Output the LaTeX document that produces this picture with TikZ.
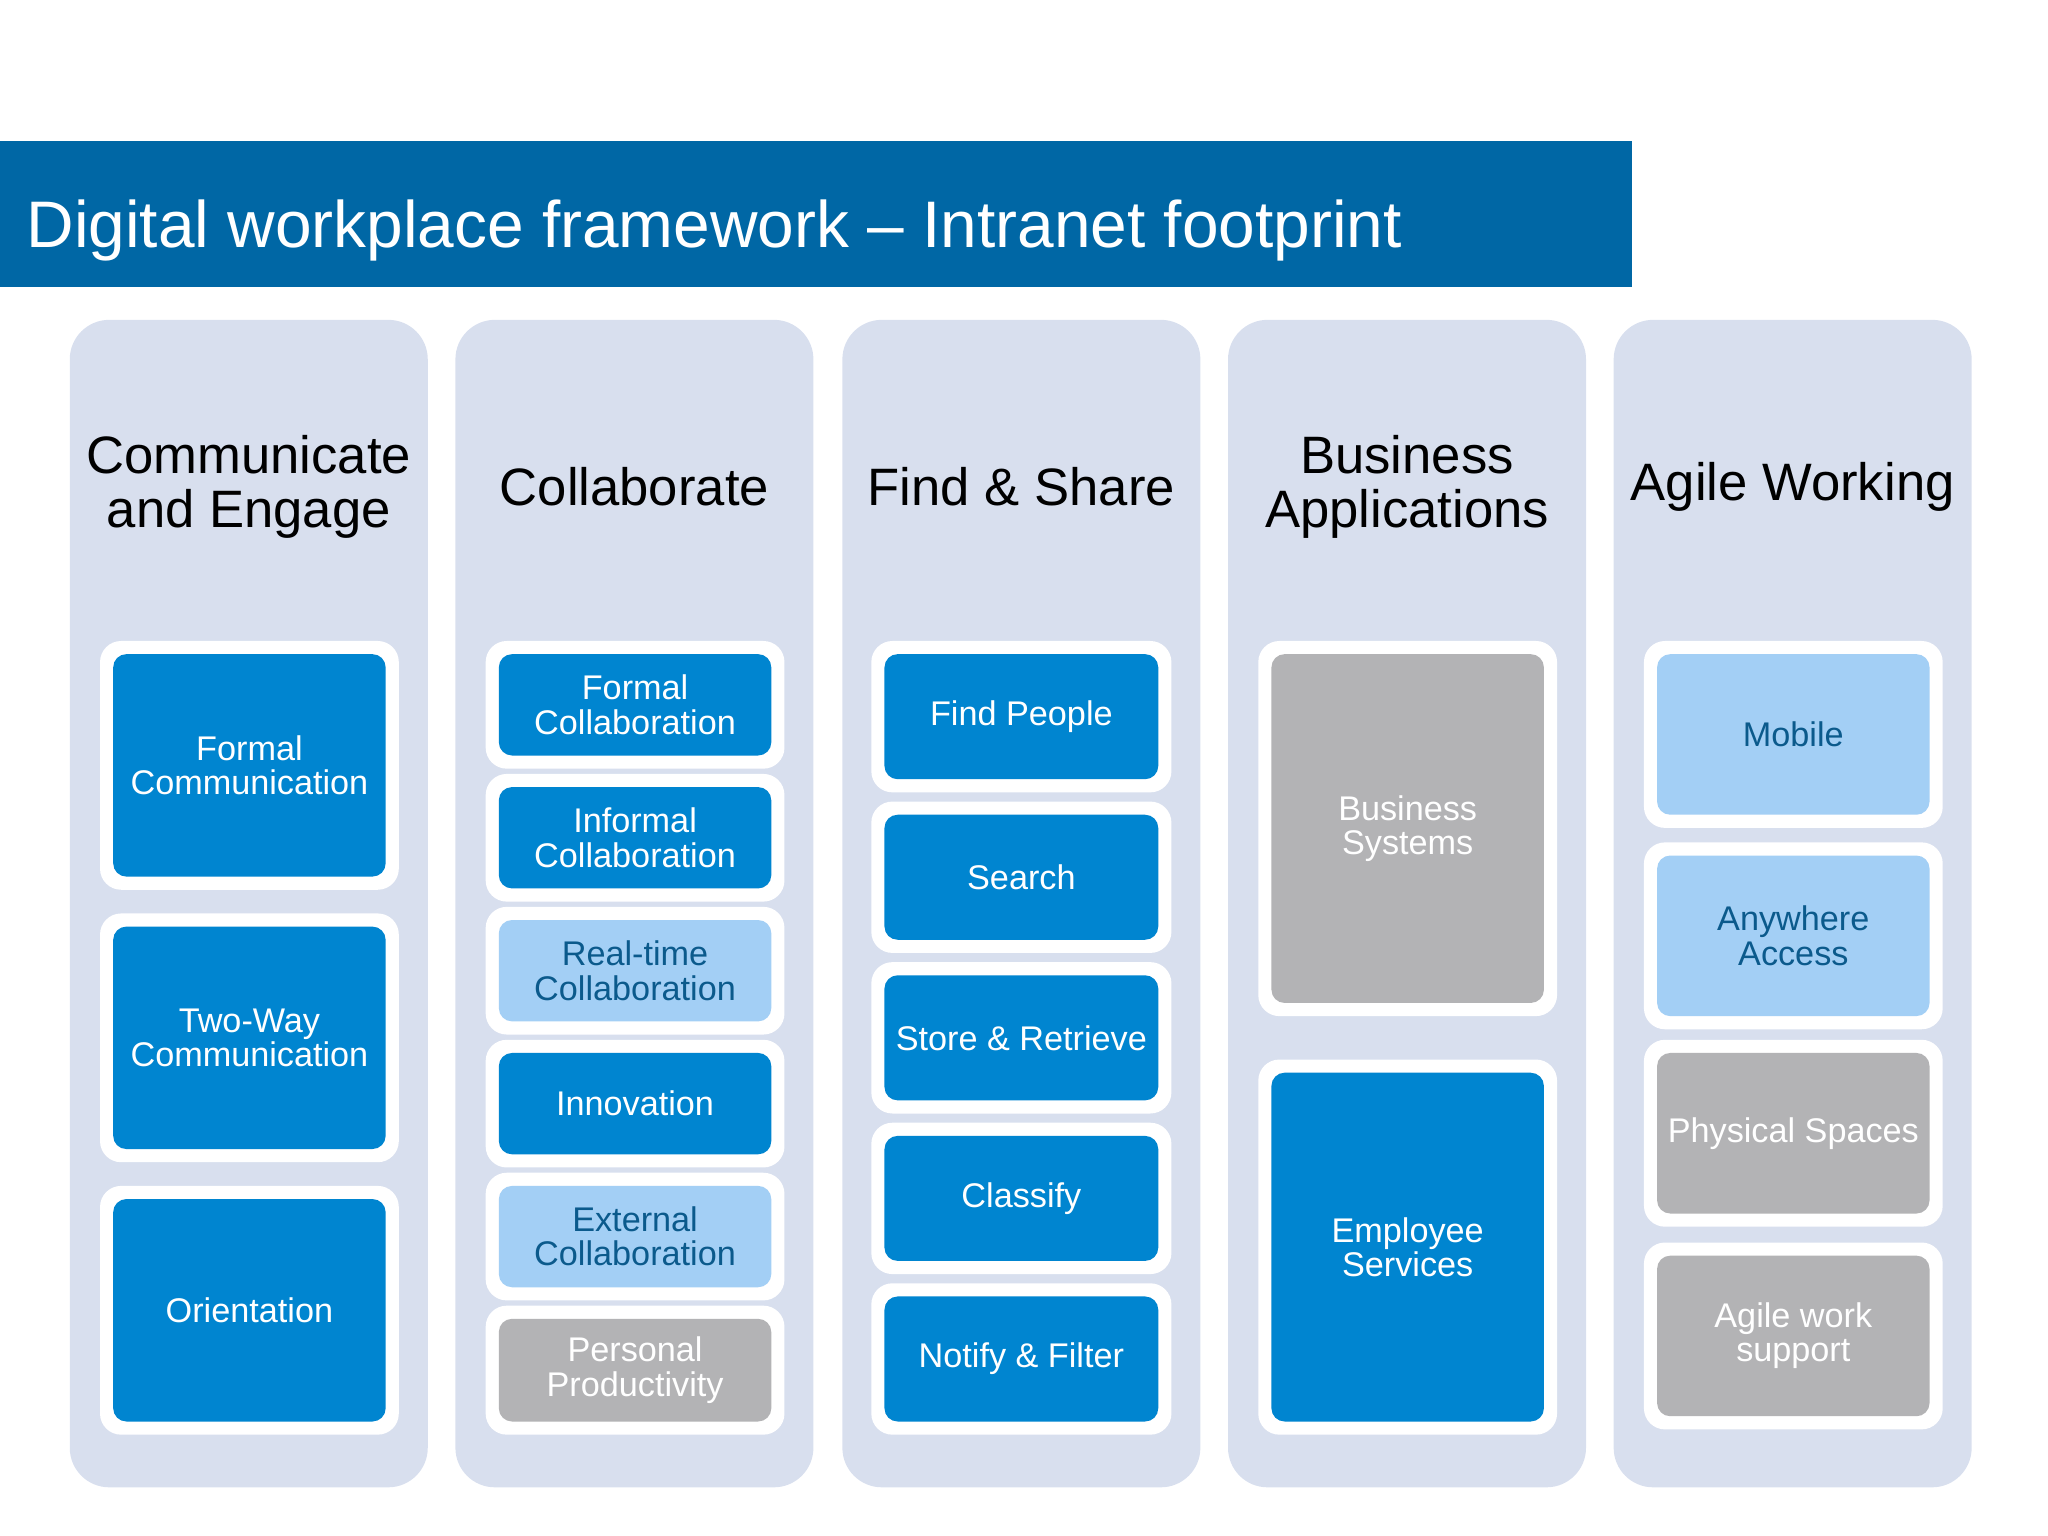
\documentclass[tikz,border=0pt]{standalone}
\usepackage{fontspec}
\setmainfont{Liberation Sans}
\definecolor{barblue}{HTML}{0067A5}
\definecolor{colbg}{HTML}{D8DFEE}
\definecolor{tileblue}{HTML}{0085D0}
\definecolor{tilelight}{HTML}{A3CFF5}
\definecolor{tilegray}{HTML}{B3B3B5}
\definecolor{darktext}{HTML}{0B5A8C}
\tikzset{
  column/.style={fill=colbg, rounded corners=30pt},
  frame/.style={fill=white, rounded corners=16pt},
  tile/.style={rounded corners=10pt, inner sep=0pt, align=center,
    font=\fontsize{26}{26}\selectfont},
  dark/.style={fill=tileblue, text=white},
  light/.style={fill=tilelight, text=darktext},
  gray/.style={fill=tilegray, text=white},
  head/.style={align=center, font=\fontsize{40}{41}\selectfont}
}
% \tile{name}{x1}{y1}{x2}{y2}{style}{text}  (inner box, px coords)
\newcommand\tile[7]{%
  \fill[frame] (#2-10,#3-10) rectangle (#4+10,#5+10);
  \node[tile,#6,minimum width={(#4-#2)*1pt},minimum height={(#5-#3)*1pt}]
    (#1) at ({(#2+#4)/2},{(#3+#5)/2}) {#7};}
\begin{document}
\begin{tikzpicture}[x=1pt,y=-1pt]
\useasboundingbox (0,0) rectangle (1556,1167);
\fill[barblue] (0,107) rectangle (1240,218);
\node[anchor=base west, text=white, font=\fontsize{50}{50}\selectfont, inner sep=0pt]
  (title) at (20,188) {Digital workplace framework – Intranet footprint};
\foreach \x/\n in {53/c1,346/c2,640/c3,933/c4,1226/c5}
  \fill[column] (\x,243) rectangle (\x+272,1130);
\node[head] (h1) at (189,370) {Communicate\\and Engage};
\node[head] (h2) at (482,370) {Collaborate};
\node[head] (h3) at (776,370) {Find \& Share};
\node[head] (h4) at (1069,370) {Business\\Applications};
\node[head] (h5) at (1362,370) {Agile Working};
% column 1
\tile{a1}{86}{497}{293}{666}{dark}{Formal\\Communication}
\tile{a2}{86}{704}{293}{873}{dark}{Two-Way\\Communication}
\tile{a3}{86}{911}{293}{1080}{dark}{Orientation}
% column 2
\tile{b1}{379}{497}{586}{574}{dark}{Formal\\Collaboration}
\tile{b2}{379}{598}{586}{675}{dark}{Informal\\Collaboration}
\tile{b3}{379}{699}{586}{776}{light}{Real-time\\Collaboration}
\tile{b4}{379}{800}{586}{877}{dark}{Innovation}
\tile{b5}{379}{901}{586}{978}{light}{External\\Collaboration}
\tile{b6}{379}{1002}{586}{1080}{gray}{Personal\\Productivity}
% column 3
\tile{d1}{672}{497}{880}{592}{dark}{Find People}
\tile{d2}{672}{619}{880}{714}{dark}{Search}
\tile{d3}{672}{741}{880}{836}{dark}{Store \& Retrieve}
\tile{d4}{672}{863}{880}{958}{dark}{Classify}
\tile{d5}{672}{985}{880}{1080}{dark}{Notify \& Filter}
% column 4
\tile{e1}{966}{497}{1173}{762}{gray}{Business\\Systems}
\tile{e2}{966}{815}{1173}{1080}{dark}{Employee\\Services}
% column 5
\tile{f1}{1259}{497}{1466}{619}{light}{Mobile}
\tile{f2}{1259}{650}{1466}{772}{light}{Anywhere\\Access}
\tile{f3}{1259}{800}{1466}{922}{gray}{Physical Spaces}
\tile{f4}{1259}{954}{1466}{1076}{gray}{Agile work\\support}
\end{tikzpicture}
\end{document}
